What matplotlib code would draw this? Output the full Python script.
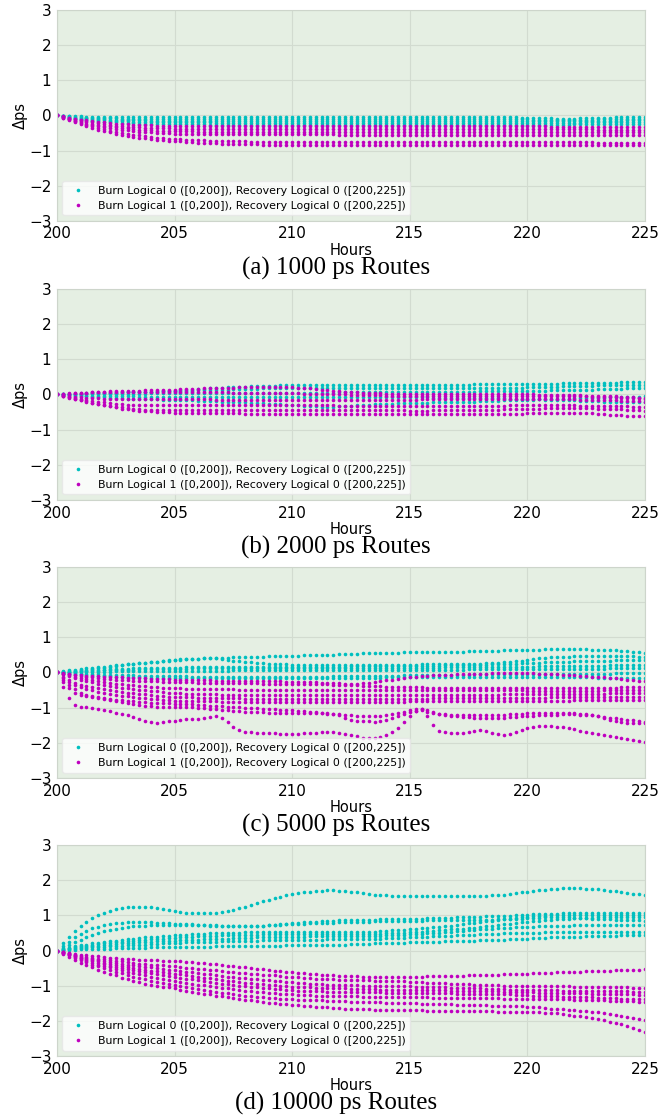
import numpy as np
import matplotlib.pyplot as plt

plt.rcParams['font.family'] = ['DejaVu Sans']

# one sample every 0.25 h from hour 200 to 225 (101 samples per route)
START = 200
STEP = 0.25

# ---- (a) 1000 ps routes
a_burn0 = [
    [0,-1,-2,-3, -3,-4,-4,-4, -4,-4,-4,-4, -4,-4,-4,-4, -4,-4,-4,-4,
     -4,-4,-4,-4, -4,-4,-4,-4, -4,-4,-4,-4, -4,-4,-4,-4, -4,-4,-4,-4,
     -4,-4,-4,-4, -4,-4,-4,-4, -4,-4,-4,-4, -4,-4,-4,-4, -4,-4,-4,-4,
     -4,-4,-4,-4, -4,-4,-4,-4, -4,-4,-4,-4, -4,-4,-4,-4, -4,-5,-5,-6,
     -6,-7,-7,-8, -8,-9,-9,-9, -9,-8,-8,-7, -7,-6,-6,-5, -5,-5,-4,-4, -4],
    [0,-2,-3,-4, -5,-6,-7,-7, -8,-8,-8,-9, -9,-9,-9,-9, -9,-9,-9,-9,
     -9,-9,-9,-9, -9,-9,-9,-9, -9,-9,-9,-9, -9,-9,-9,-9, -9,-9,-9,-9,
     -9,-9,-9,-9, -9,-9,-9,-9, -9,-9,-10,-10, -10,-10,-10,-10, -10,-10,-10,-10,
     -10,-10,-10,-10, -10,-10,-10,-10, -10,-10,-10,-10, -10,-10,-10,-10, -10,-11,-11,-11,
     -11,-12,-12,-12, -12,-13,-13,-13, -13,-12,-12,-12, -11,-11,-10,-10, -10,-9,-9,-9, -9],
    [0,-2,-4,-6, -7,-8,-9,-10, -11,-12,-12,-13, -13,-14,-14,-14, -15,-15,-15,-15,
     -15,-15,-15,-15, -15,-15,-15,-15, -15,-15,-15,-15, -15,-15,-15,-15, -15,-15,-15,-15,
     -15,-15,-15,-15, -15,-15,-15,-15, -16,-16,-16,-16, -16,-16,-16,-16, -16,-16,-16,-16,
     -16,-16,-16,-16, -16,-16,-16,-16, -16,-16,-16,-16, -16,-16,-16,-16, -16,-16,-16,-16,
     -16,-16,-16,-16, -16,-16,-16,-16, -16,-16,-16,-16, -15,-15,-15,-15, -15,-14,-14,-14, -14],
    [0,-3,-5,-7, -9,-11,-12,-13, -14,-15,-16,-17, -17,-18,-18,-19, -19,-19,-20,-20,
     -20,-20,-20,-20, -20,-20,-20,-21, -21,-21,-21,-21, -21,-21,-21,-21, -21,-21,-21,-21,
     -21,-21,-21,-21, -21,-21,-21,-21, -21,-21,-21,-21, -21,-21,-21,-21, -21,-21,-21,-21,
     -21,-21,-21,-21, -21,-21,-21,-21, -21,-21,-21,-21, -21,-21,-21,-21, -21,-21,-21,-21,
     -21,-21,-21,-21, -21,-21,-21,-21, -21,-21,-20,-20, -20,-20,-20,-20, -19,-19,-19,-19, -19],
    [0,-3,-6,-9, -11,-13,-15,-16, -18,-19,-20,-21, -22,-22,-23,-23, -24,-24,-24,-25,
     -25,-25,-25,-25, -25,-25,-26,-26, -26,-26,-26,-26, -26,-26,-26,-26, -26,-26,-26,-26,
     -26,-26,-26,-26, -26,-26,-26,-26, -26,-26,-26,-26, -26,-26,-26,-26, -26,-26,-26,-26,
     -26,-26,-26,-26, -26,-26,-26,-26, -26,-26,-26,-26, -26,-26,-26,-26, -26,-26,-26,-26,
     -26,-26,-26,-26, -26,-26,-26,-26, -25,-25,-25,-25, -25,-25,-25,-25, -24,-24,-24,-24, -24],
]
a_burn1 = [
    [0,-3,-6,-9, -12,-14,-16,-18, -20,-22,-23,-24, -25,-26,-27,-28, -28,-29,-29,-30,
     -30,-30,-30,-30, -30,-30,-30,-30, -31,-31,-31,-31, -31,-31,-31,-31, -31,-31,-31,-31,
     -31,-31,-31,-31, -31,-31,-31,-31, -31,-31,-31,-31, -31,-31,-31,-31, -31,-31,-31,-31,
     -31,-31,-31,-31, -31,-31,-31,-31, -31,-31,-31,-31, -31,-31,-31,-31, -31,-31,-31,-31,
     -31,-31,-31,-31, -32,-32,-32,-32, -32,-32,-32,-32, -32,-32,-33,-33, -33,-33,-33,-33, -33],
    [0,-4,-8,-11, -14,-17,-20,-22, -25,-27,-29,-30, -32,-33,-34,-35, -36,-36,-37,-37,
     -38,-38,-38,-38, -38,-38,-38,-38, -38,-38,-38,-38, -39,-39,-39,-39, -39,-39,-39,-39,
     -39,-39,-39,-39, -39,-39,-39,-39, -39,-39,-39,-39, -39,-39,-39,-39, -39,-39,-39,-39,
     -39,-39,-39,-39, -39,-39,-39,-39, -39,-39,-39,-39, -39,-39,-39,-39, -39,-39,-39,-39,
     -39,-39,-39,-39, -39,-39,-39,-39, -39,-39,-39,-39, -40,-40,-40,-40, -40,-40,-40,-40, -40],
    [0,-4,-9,-13, -17,-20,-23,-26, -29,-31,-33,-35, -37,-38,-40,-41, -42,-43,-43,-44,
     -44,-45,-45,-45, -46,-46,-46,-46, -46,-46,-46,-46, -46,-46,-46,-46, -46,-46,-46,-46,
     -46,-46,-46,-46, -46,-46,-46,-46, -46,-46,-46,-46, -46,-46,-46,-46, -46,-46,-46,-46,
     -47,-47,-47,-47, -47,-47,-47,-47, -47,-47,-47,-47, -47,-47,-47,-47, -47,-47,-47,-47,
     -47,-47,-47,-47, -47,-47,-47,-47, -47,-47,-47,-47, -46,-46,-46,-46, -46,-46,-46,-46, -46],
    [0,-5,-10,-15, -19,-23,-27,-30, -33,-36,-38,-40, -42,-44,-46,-47, -48,-49,-50,-51,
     -52,-52,-53,-53, -54,-54,-54,-54, -54,-54,-54,-54, -54,-54,-54,-54, -54,-54,-54,-54,
     -54,-54,-54,-54, -54,-54,-54,-54, -55,-55,-55,-55, -55,-55,-55,-55, -55,-55,-55,-55,
     -55,-55,-55,-55, -55,-55,-55,-55, -55,-55,-55,-55, -55,-55,-55,-55, -55,-55,-55,-55,
     -55,-55,-55,-55, -55,-55,-55,-55, -55,-55,-55,-55, -55,-55,-55,-55, -55,-55,-55,-55, -55],
    [0,-6,-11,-17, -22,-27,-31,-35, -39,-43,-46,-49, -52,-55,-57,-59, -61,-63,-64,-66,
     -67,-68,-69,-70, -71,-71,-72,-72, -73,-73,-74,-74, -74,-75,-75,-75, -75,-75,-75,-75,
     -75,-75,-75,-75, -75,-75,-75,-75, -75,-75,-75,-75, -75,-75,-75,-75, -75,-75,-75,-75,
     -76,-76,-76,-76, -76,-76,-76,-76, -76,-76,-76,-76, -76,-76,-76,-76, -76,-76,-76,-76,
     -76,-76,-76,-76, -76,-76,-76,-76, -76,-76,-76,-76, -77,-77,-77,-77, -77,-77,-77,-77, -77],
    [0,-6,-13,-19, -25,-30,-35,-40, -44,-48,-52,-55, -58,-61,-63,-65, -67,-69,-70,-72,
     -73,-74,-75,-76, -77,-78,-79,-79, -80,-80,-81,-81, -82,-82,-82,-83, -83,-83,-83,-83,
     -83,-83,-83,-83, -83,-83,-83,-83, -84,-84,-84,-84, -84,-84,-84,-84, -84,-84,-84,-84,
     -84,-84,-84,-84, -84,-84,-84,-84, -84,-84,-84,-84, -84,-84,-84,-84, -84,-84,-84,-84,
     -84,-84,-84,-84, -84,-84,-84,-84, -85,-85,-85,-85, -85,-85,-85,-85, -85,-85,-85,-85, -85],
]

# ---- (b) 2000 ps routes
b_burn0 = [
    [0,1,1,2, 2,3,3,4, 4,5,5,6, 6,7,7,8, 8,9,9,10,
     11,12,13,14, 15,16,17,18, 19,20,21,22, 22,23,24,24, 25,25,26,26,
     26,26,27,27, 27,27,27,27, 27,27,27,27, 27,27,27,27, 27,27,27,28,
     28,28,28,28, 28,28,28,28, 28,28,28,29, 29,29,29,29, 29,29,30,30,
     30,30,30,31, 31,31,32,32, 32,33,33,33, 34,34,34,34, 35,35,35,35, 35],
    [0,0,1,1, 2,2,3,3, 4,4,5,5, 6,6,7,7, 8,8,9,9,
     10,10,11,11, 12,12,13,13, 14,14,15,15, 16,16,16,17, 17,17,18,18,
     18,18,18,18, 18,18,18,18, 18,18,18,18, 18,18,18,18, 18,18,18,18,
     18,18,18,18, 18,18,18,18, 18,18,19,19, 19,19,19,19, 19,19,19,19,
     20,20,21,21, 22,22,23,23, 24,24,25,25, 26,26,26,27, 27,27,28,28, 28],
    [0,0,0,1, 1,1,1,1, 1,2,2,2, 2,2,2,2, 3,3,3,3,
     3,3,3,3, 3,4,4,4, 4,4,4,4, 4,4,4,5, 5,5,5,5,
     5,5,5,5, 5,5,5,5, 6,6,6,6, 6,6,6,6, 6,6,7,7,
     7,7,7,7, 7,7,8,8, 8,8,8,8, 9,9,9,9, 9,9,10,10,
     10,10,11,11, 12,12,12,13, 13,14,14,14, 15,15,15,16, 16,17,17,18, 18],
    [0,-1,-2,-3, -4,-5,-6,-7, -8,-9,-10,-11, -12,-12,-13,-13, -14,-14,-15,-15,
     -16,-16,-17,-17, -18,-18,-19,-19, -20,-20,-21,-21, -22,-23,-24,-25, -26,-27,-28,-29,
     -30,-31,-32,-33, -34,-35,-35,-35, -34,-33,-32,-31, -30,-29,-28,-27, -26,-26,-25,-25,
     -24,-24,-23,-23, -22,-22,-22,-21, -21,-21,-20,-20, -19,-19,-18,-18, -17,-17,-16,-16,
     -15,-15,-14,-14, -13,-13,-12,-12, -11,-11,-10,-10, -9,-9,-8,-8, -7,-7,-6,-6, -5],
    [0,-1,-1,-2, -2,-3,-3,-4, -4,-4,-5,-5, -5,-5,-6,-6, -6,-6,-6,-6,
     -6,-6,-6,-6, -6,-6,-6,-6, -6,-6,-6,-6, -6,-6,-6,-6, -6,-6,-6,-6,
     -6,-6,-6,-6, -7,-7,-7,-7, -7,-7,-7,-7, -8,-8,-8,-8, -8,-8,-8,-8,
     -8,-8,-8,-8, -9,-9,-9,-9, -9,-9,-10,-10, -10,-10,-11,-11, -11,-12,-12,-13,
     -13,-14,-14,-15, -15,-16,-16,-17, -17,-18,-18,-19, -19,-20,-20,-21, -21,-21,-22,-22, -22],
]
b_burn1 = [
    [0,1,2,3, 4,5,6,7, 8,9,9,10, 10,11,11,12, 12,13,13,14,
     14,15,15,16, 16,17,17,18, 18,19,19,20, 20,21,21,22, 22,22,21,21,
     20,19,18,17, 15,14,12,11, 9,8,7,6, 5,4,3,3, 2,2,1,1,
     1,1,1,1, 0,0,0,0, 0,0,0,0, 0,0,0,0, 0,0,0,0,
     0,0,-1,-1, -1,-1,-2,-2, -2,-2,-3,-3, -3,-4,-4,-5, -6,-7,-8,-9, -10],
    [0,2,3,4, 5,5,6,6, 6,6,6,6, 6,6,6,6, 6,6,6,6,
     6,6,6,6, 6,6,6,6, 6,6,5,5, 5,5,4,4, 4,4,3,3,
     3,3,2,2, 2,2,1,1, 0,0,-1,-1, -2,-2,-2,-2, -3,-3,-3,-3,
     -3,-3,-3,-3, -4,-4,-4,-4, -4,-4,-4,-4, -4,-4,-4,-4, -4,-4,-5,-5,
     -5,-5,-5,-5, -5,-5,-5,-5, -5,-5,-5,-6, -6,-7,-8,-8, -9,-10,-11,-11, -12],
    [0,-2,-4,-6, -8,-9,-10,-11, -12,-12,-13,-13, -14,-14,-14,-14, -14,-14,-14,-14,
     -14,-14,-14,-14, -14,-14,-14,-15, -15,-15,-15,-15, -15,-15,-15,-15, -15,-15,-15,-15,
     -15,-15,-15,-15, -15,-15,-15,-15, -15,-15,-15,-15, -15,-15,-15,-15, -15,-15,-15,-15,
     -15,-15,-14,-14, -14,-14,-14,-14, -13,-13,-13,-13, -13,-13,-13,-12, -12,-12,-12,-12,
     -12,-12,-12,-13, -13,-13,-14,-14, -14,-15,-15,-15, -16,-16,-17,-17, -18,-18,-19,-19, -20],
    [0,-3,-6,-9, -12,-15,-18,-20, -22,-24,-26,-28, -29,-30,-30,-30, -30,-30,-30,-30,
     -30,-30,-30,-30, -30,-30,-30,-30, -29,-29,-29,-29, -29,-29,-29,-29, -29,-29,-29,-30,
     -30,-30,-30,-30, -31,-31,-31,-31, -32,-32,-32,-32, -33,-33,-33,-33, -33,-33,-33,-33,
     -34,-34,-34,-34, -34,-34,-34,-34, -33,-33,-33,-33, -33,-33,-32,-32, -32,-31,-31,-31,
     -30,-30,-30,-30, -30,-30,-31,-31, -31,-32,-32,-32, -33,-33,-33,-34, -34,-34,-35,-35, -36],
    [0,-4,-8,-12, -15,-19,-23,-26, -29,-32,-35,-37, -39,-41,-42,-43, -44,-44,-45,-45,
     -45,-45,-45,-45, -45,-45,-45,-45, -44,-44,-44,-44, -44,-44,-44,-44, -43,-43,-43,-43,
     -43,-43,-43,-43, -44,-44,-44,-44, -44,-44,-44,-44, -45,-45,-45,-45, -45,-45,-45,-45,
     -46,-46,-46,-46, -45,-45,-45,-45, -44,-44,-44,-44, -43,-43,-43,-43, -42,-42,-41,-41,
     -40,-40,-40,-39, -39,-39,-39,-39, -39,-39,-39,-39, -40,-40,-41,-41, -42,-43,-44,-45, -46],
    [0,-4,-9,-13, -17,-21,-25,-28, -31,-34,-37,-40, -42,-44,-46,-47, -48,-49,-50,-51,
     -52,-52,-53,-53, -54,-54,-54,-54, -54,-54,-54,-54, -55,-55,-55,-55, -55,-55,-55,-55,
     -55,-55,-55,-55, -55,-55,-55,-55, -55,-55,-55,-55, -55,-55,-55,-55, -55,-55,-55,-55,
     -55,-55,-55,-55, -55,-55,-55,-55, -55,-55,-55,-55, -55,-55,-55,-55, -55,-55,-55,-55,
     -54,-54,-54,-54, -53,-53,-53,-53, -53,-53,-54,-54, -55,-56,-57,-58, -59,-60,-61,-62, -62],
]

# ---- (c) 5000 ps routes
c_burn0 = [
    [0,3,6,8, 10,12,14,15, 17,18,20,21, 23,25,26,28, 30,31,33,35,
     36,37,38,38, 39,40,41,41, 42,42,43,43, 44,44,45,45, 46,46,47,47,
     48,48,49,49, 50,50,51,51, 52,52,53,53, 54,54,55,55, 56,56,56,57,
     57,57,57,58, 58,58,58,59, 59,59,60,60, 61,61,62,62, 63,63,64,64,
     65,65,65,66, 66,66,66,66, 66,66,66,65, 65,64,64,63, 62,61,59,58, 56],
    [0,1,3,4, 6,8,10,12, 14,16,19,21, 23,25,27,28, 30,31,33,34,
     35,36,37,38, 39,40,41,40, 38,36,34,32, 30,29,27,26, 25,24,23,23,
     22,22,22,22, 22,22,22,22, 22,22,22,22, 22,22,22,22, 22,22,22,22,
     22,22,23,23, 23,23,23,23, 23,23,24,24, 25,26,27,28, 29,31,32,34,
     36,38,40,41, 43,44,45,45, 46,46,46,47, 47,47,47,46, 46,46,46,45, 45],
    [0,1,2,3, 4,5,6,7, 8,9,10,10, 11,12,12,13, 13,13,14,14,
     14,14,15,15, 15,15,16,16, 16,16,16,16, 16,16,16,16, 16,16,17,17,
     17,17,17,17, 17,17,17,17, 17,17,18,18, 18,18,18,18, 18,18,18,18,
     18,18,19,19, 19,19,20,20, 20,21,21,22, 22,22,23,23, 24,25,25,26,
     27,28,28,29, 30,30,31,31, 32,32,33,33, 34,34,34,35, 35,35,35,35, 35],
    [0,1,2,2, 3,4,5,5, 6,6,7,7, 8,8,9,9, 10,10,10,11,
     11,11,11,12, 12,12,12,12, 12,12,12,12, 12,12,13,13, 13,13,13,13,
     13,13,13,13, 13,13,13,13, 13,13,13,13, 13,13,14,14, 14,14,14,14,
     14,14,14,14, 14,14,15,15, 15,15,15,15, 16,16,16,16, 16,16,17,17,
     17,17,18,18, 18,18,19,19, 19,19,19,19, 19,19,20,20, 20,20,21,21, 21],
    [0,0,1,1, 1,1,2,2, 2,2,3,3, 3,3,4,4, 4,4,5,5,
     5,5,5,5, 5,5,5,5, 5,5,6,6, 6,6,6,6, 6,6,6,6,
     6,6,6,7, 7,7,7,7, 7,7,7,7, 7,7,7,7, 7,7,8,8,
     8,8,8,8, 8,8,8,8, 8,8,9,9, 9,9,9,9, 9,9,10,10,
     10,10,10,10, 10,10,11,11, 11,11,11,11, 11,11,12,12, 12,12,12,12, 12],
    [0,-1,-2,-2, -3,-4,-5,-5, -6,-6,-7,-7, -8,-8,-9,-9, -10,-10,-10,-11,
     -11,-11,-11,-12, -12,-12,-12,-13, -13,-13,-13,-13, -13,-13,-13,-13, -13,-13,-13,-13,
     -13,-13,-13,-12, -12,-12,-12,-11, -11,-11,-11,-10, -10,-10,-10,-9, -9,-9,-9,-8,
     -8,-8,-8,-7, -7,-7,-7,-6, -6,-6,-6,-5, -5,-5,-5,-5, -5,-5,-5,-4,
     -4,-4,-4,-4, -4,-4,-4,-3, -3,-3,-3,-3, -3,-3,-3,-2, -2,-2,-2,-2, -2],
    [0,-1,-3,-4, -5,-6,-8,-9, -10,-11,-12,-12, -13,-14,-14,-15, -15,-15,-16,-16,
     -16,-16,-17,-17, -17,-17,-17,-17, -17,-17,-17,-17, -17,-17,-17,-17, -17,-17,-17,-17,
     -17,-17,-17,-17, -17,-17,-17,-17, -16,-16,-16,-16, -15,-15,-15,-15, -14,-14,-14,-14,
     -13,-13,-13,-13, -12,-12,-12,-12, -12,-12,-12,-12, -12,-12,-12,-12, -12,-12,-12,-12,
     -12,-12,-12,-12, -13,-13,-13,-13, -14,-14,-14,-14, -15,-15,-15,-15, -16,-16,-16,-16, -17],
]
c_burn1 = [
    [0,-2,-4,-6, -8,-9,-10,-11, -12,-13,-14,-14, -15,-16,-17,-17, -18,-18,-19,-19,
     -20,-20,-21,-21, -22,-22,-22,-23, -23,-23,-23,-24, -24,-24,-24,-25, -25,-25,-25,-26,
     -26,-26,-27,-27, -28,-29,-30,-30, -31,-32,-34,-33, -31,-29,-27,-24, -22,-20,-18,-16,
     -14,-12,-11,-9, -8,-7,-6,-6, -5,-4,-4,-3, -3,-3,-2,-2, -2,-2,-2,-2,
     -2,-2,-3,-3, -4,-5,-6,-7, -8,-9,-10,-12, -13,-14,-15,-17, -18,-20,-21,-23, -24],
    [0,-3,-5,-8, -10,-12,-14,-16, -18,-19,-20,-21, -22,-23,-23,-24, -25,-25,-26,-26,
     -27,-27,-28,-28, -29,-29,-29,-30, -30,-30,-30,-31, -31,-31,-31,-32, -32,-32,-32,-33,
     -33,-33,-33,-34, -34,-34,-34,-35, -35,-35,-36,-36, -37,-38,-38,-39, -40,-40,-41,-41,
     -42,-42,-42,-43, -43,-43,-43,-44, -44,-44,-44,-45, -45,-45,-45,-45, -45,-45,-45,-45,
     -45,-45,-45,-45, -45,-45,-45,-45, -44,-44,-44,-44, -43,-43,-43,-43, -42,-42,-41,-41, -40],
    [0,-4,-8,-12, -15,-19,-22,-25, -28,-30,-32,-34, -35,-36,-38,-39, -40,-41,-43,-44,
     -45,-45,-46,-46, -47,-47,-47,-48, -48,-48,-48,-49, -49,-49,-49,-50, -50,-50,-50,-50,
     -50,-50,-50,-50, -50,-50,-50,-50, -50,-50,-50,-50, -50,-50,-50,-50, -50,-50,-50,-50,
     -50,-50,-50,-50, -50,-50,-50,-50, -51,-51,-51,-51, -51,-51,-51,-51, -51,-51,-51,-51,
     -52,-52,-52,-52, -52,-52,-52,-52, -52,-52,-52,-52, -52,-51,-51,-51, -51,-51,-50,-50, -50],
    [0,-5,-10,-15, -20,-24,-28,-32, -35,-38,-40,-43, -45,-47,-49,-50, -52,-54,-55,-57,
     -58,-59,-60,-60, -61,-61,-62,-62, -63,-63,-63,-64, -64,-64,-64,-64, -64,-64,-64,-64,
     -64,-64,-64,-64, -64,-64,-64,-64, -64,-64,-64,-64, -64,-64,-64,-64, -64,-64,-64,-64,
     -63,-63,-63,-63, -63,-63,-63,-63, -63,-63,-63,-63, -63,-63,-63,-63, -62,-62,-62,-62,
     -62,-62,-62,-61, -61,-61,-61,-60, -60,-60,-60,-60, -60,-60,-59,-59, -59,-59,-59,-59, -59],
    [0,-12,-22,-29, -35,-39,-42,-45, -48,-50,-53,-55, -57,-59,-61,-62, -64,-66,-67,-69,
     -70,-70,-71,-71, -72,-72,-72,-72, -73,-73,-73,-73, -74,-74,-74,-74, -74,-74,-74,-74,
     -75,-75,-75,-75, -76,-76,-76,-76, -76,-76,-76,-76, -76,-76,-76,-76, -76,-75,-75,-75,
     -74,-74,-74,-74, -73,-73,-73,-73, -72,-72,-72,-72, -72,-72,-72,-72, -72,-72,-72,-72,
     -72,-72,-72,-72, -71,-71,-71,-71, -70,-70,-70,-70, -70,-70,-70,-70, -69,-69,-69,-69, -69],
    [0,-15,-27,-36, -42,-47,-51,-55, -58,-61,-63,-66, -68,-70,-72,-73, -75,-76,-78,-79,
     -80,-80,-81,-81, -82,-82,-82,-82, -83,-83,-83,-83, -84,-84,-84,-84, -84,-84,-84,-84,
     -84,-84,-84,-84, -84,-84,-84,-84, -84,-84,-84,-84, -84,-84,-84,-84, -83,-83,-83,-83,
     -82,-82,-82,-82, -82,-82,-82,-82, -81,-81,-81,-81, -81,-81,-81,-81, -80,-80,-80,-80,
     -80,-80,-80,-80, -80,-80,-80,-80, -79,-79,-79,-79, -79,-79,-79,-79, -78,-78,-78,-78, -78],
    [0,-20,-35,-48, -57,-63,-67,-70, -73,-75,-77,-78, -80,-82,-83,-85, -86,-87,-88,-88,
     -89,-90,-90,-91, -92,-93,-94,-95, -96,-97,-98,-99, -100,-101,-102,-103, -104,-105,-106,-107,
     -108,-109,-110,-112, -113,-115,-117,-118, -120,-128,-135,-137, -138,-139,-140,-138, -135,-130,-125,-119,
     -112,-109,-108,-111, -115,-118,-120,-123, -125,-126,-127,-128, -128,-128,-128,-128, -128,-127,-126,-125,
     -124,-123,-122,-121, -120,-120,-119,-119, -119,-120,-121,-122, -124,-126,-128,-130, -132,-134,-136,-138, -140],
    [0,-26,-45,-58, -64,-68,-71,-73, -76,-79,-81,-83, -86,-89,-92,-94, -96,-97,-98,-99,
     -99,-99,-99,-99, -100,-101,-103,-105, -106,-108,-109,-110, -111,-112,-112,-113, -114,-114,-114,-114,
     -114,-114,-115,-115, -115,-115,-116,-117, -118,-120,-122,-124, -125,-125,-125,-123, -121,-118,-115,-111,
     -107,-105,-105,-108, -113,-117,-119,-120, -121,-121,-121,-121, -121,-121,-121,-121, -120,-119,-118,-117,
     -116,-116,-115,-115, -114,-114,-114,-115, -116,-117,-118,-120, -125,-130,-135,-139, -142,-144,-145,-145, -145],
    [0,-40,-73,-92, -97,-99,-101,-104, -107,-110,-114,-118, -122,-127,-133,-139, -142,-143,-141,-139,
     -137,-135,-133,-132, -131,-130,-127,-124, -128,-140,-155,-164, -168,-170,-171,-172, -173,-173,-174,-174,
     -174,-174,-173,-172, -171,-170,-169,-170, -173,-176,-179,-182, -185,-187,-186,-183, -178,-170,-157,-140,
     -125,-110,-105,-125, -150,-165,-170,-173, -173,-172,-170,-167, -164,-167,-172,-176, -178,-175,-169,-163,
     -159,-156,-153,-152, -153,-154,-156,-159, -162,-165,-168,-171, -174,-177,-180,-183, -186,-189,-192,-195, -197],
]

# ---- (d) 10000 ps routes
d_burn0 = [
    [0,20,37,55, 70,82,92,101, 108,113,118,121, 123,124,124,124, 123,121,118,115,
     112,110,108,107, 106,106,106,107, 109,112,116,120, 125,130,135,140, 145,149,153,157,
     160,163,165,167, 169,170,171,171, 170,169,167,165, 163,161,159,158, 157,156,155,155,
     155,155,155,155, 155,155,155,155, 155,155,155,155, 155,156,157,158, 159,161,163,165,
     167,169,171,173, 175,176,177,177, 177,177,176,175, 174,172,170,168, 166,164,162,160, 158],
    [0,12,25,38, 48,56,63,68, 72,75,77,79, 80,81,81,81, 80,79,78,77,
     76,75,75,74, 73,73,72,72, 71,71,70,70, 70,70,71,71, 72,73,74,76,
     77,78,80,81, 82,83,84,85, 86,86,87,87, 88,88,88,89, 89,89,90,90,
     91,91,91,92, 92,92,93,93, 94,94,95,95, 96,97,97,98, 99,99,100,101,
     102,103,103,104, 105,105,106,106, 107,107,107,108, 108,108,108,108, 108,108,108,108, 108],
    [0,8,16,23, 30,37,43,49, 55,59,62,65, 68,69,70,71, 72,72,72,73,
     73,73,73,72, 72,72,71,71, 70,70,70,70, 70,70,71,71, 72,73,73,74,
     75,76,76,77, 78,78,79,79, 80,80,81,81, 82,82,83,83, 84,84,84,85,
     85,85,85,86, 86,86,86,87, 87,87,87,88, 88,88,88,89, 89,90,90,91,
     92,93,93,94, 95,95,94,94, 93,92,92,91, 90,89,89,88, 88,87,87,86, 85],
    [0,4,8,12, 15,17,20,22, 24,26,28,30, 32,34,35,37, 38,39,41,42,
     43,44,45,46, 47,48,49,49, 50,50,51,51, 52,52,52,53, 53,53,53,53,
     53,53,53,53, 52,52,52,52, 52,52,52,52, 53,54,54,55, 56,57,58,59,
     60,61,63,64, 66,68,70,71, 73,75,77,79, 81,83,85,87, 89,91,93,94,
     96,97,98,99, 100,100,101,101, 102,102,102,102, 102,102,101,101, 101,101,100,100, 100],
    [0,3,6,9, 12,14,16,18, 20,22,24,25, 27,28,30,31, 32,33,34,35,
     36,37,38,39, 40,41,41,42, 43,43,44,44, 45,45,45,46, 46,46,46,46,
     46,46,46,46, 46,46,46,46, 46,46,46,46, 47,47,48,48, 49,50,50,51,
     52,53,54,55, 56,57,58,60, 61,62,64,65, 67,69,70,72, 74,76,78,80,
     82,84,85,87, 88,89,90,91, 92,92,93,93, 94,94,94,94, 94,94,94,94, 94],
    [0,2,5,7, 9,11,13,14, 16,17,19,20, 21,22,23,24, 25,26,27,27,
     28,29,30,30, 31,32,33,33, 34,34,35,35, 36,36,37,37, 38,38,38,39,
     39,39,39,40, 40,40,40,40, 40,40,40,41, 41,41,41,42, 43,43,44,45,
     46,47,48,49, 50,51,52,54, 55,56,57,59, 60,61,62,63, 64,65,66,67,
     68,68,69,69, 70,70,71,71, 72,72,72,72, 72,72,72,72, 72,72,72,72, 72],
    [0,2,3,5, 6,7,9,10, 11,12,13,14, 15,16,17,17, 18,19,20,20,
     21,22,23,23, 24,24,25,25, 26,26,27,27, 28,28,28,29, 29,29,30,30,
     30,30,31,31, 31,31,32,32, 32,32,33,33, 33,33,34,34, 35,35,36,36,
     37,38,38,39, 40,41,41,42, 43,44,44,45, 46,47,47,48, 49,49,50,50,
     51,51,51,52, 52,52,52,53, 53,53,53,53, 53,53,53,53, 53,53,53,53, 53],
    [0,1,2,2, 3,3,4,4, 5,5,6,6, 7,7,8,8, 9,9,9,10,
     10,10,10,11, 11,11,11,12, 12,12,12,13, 13,13,13,14, 14,14,14,15,
     15,15,15,16, 16,16,16,17, 17,17,18,18, 19,19,20,20, 21,21,22,22,
     23,23,24,24, 25,25,26,26, 27,27,28,28, 29,29,30,30, 31,32,32,33,
     34,35,35,36, 37,37,38,38, 39,39,40,40, 41,41,42,42, 43,43,43,44, 44],
]
d_burn1 = [
    [0,-3,-6,-9, -12,-14,-16,-17, -19,-20,-22,-23, -24,-25,-26,-26, -27,-28,-29,-29,
     -30,-31,-32,-34, -35,-36,-38,-39, -41,-43,-45,-46, -48,-50,-52,-53, -55,-57,-59,-60,
     -62,-64,-65,-67, -68,-69,-70,-71, -72,-72,-73,-73, -74,-74,-74,-74, -74,-74,-74,-74,
     -74,-74,-74,-73, -73,-73,-73,-72, -72,-72,-71,-71, -70,-70,-69,-69, -68,-68,-67,-67,
     -66,-65,-65,-64, -63,-62,-62,-61, -60,-60,-59,-59, -58,-57,-57,-56, -55,-55,-54,-54, -53],
    [0,-4,-8,-12, -15,-18,-20,-23, -25,-27,-29,-31, -33,-35,-37,-38, -40,-41,-42,-44,
     -45,-47,-49,-50, -52,-53,-55,-56, -58,-60,-61,-63, -64,-66,-67,-69, -70,-71,-73,-74,
     -75,-76,-78,-79, -80,-81,-82,-82, -83,-83,-84,-84, -85,-85,-86,-86, -87,-87,-88,-88,
     -89,-90,-90,-91, -92,-93,-93,-94, -95,-96,-96,-97, -98,-98,-99,-99, -100,-100,-100,-100,
     -101,-101,-101,-101, -102,-102,-102,-102, -103,-103,-103,-103, -104,-104,-104,-104, -105,-105,-106,-106, -107],
    [0,-5,-9,-14, -18,-21,-24,-27, -30,-33,-35,-38, -40,-42,-44,-46, -48,-50,-52,-54,
     -56,-58,-60,-62, -64,-66,-68,-70, -72,-74,-76,-77, -79,-81,-82,-84, -85,-86,-88,-89,
     -90,-91,-93,-94, -95,-96,-97,-97, -98,-98,-99,-99, -100,-100,-100,-101, -101,-101,-102,-102,
     -102,-103,-103,-104, -104,-105,-105,-106, -106,-107,-107,-108, -108,-109,-109,-110, -110,-111,-111,-112,
     -112,-112,-113,-113, -113,-113,-114,-114, -114,-114,-115,-115, -115,-115,-116,-116, -116,-116,-117,-117, -117],
    [0,-5,-10,-15, -20,-24,-28,-31, -35,-38,-41,-44, -47,-50,-52,-55, -57,-59,-61,-64,
     -66,-68,-70,-73, -75,-77,-79,-82, -84,-86,-88,-90, -92,-93,-95,-96, -98,-99,-100,-102,
     -103,-104,-104,-105, -106,-106,-107,-107, -108,-108,-109,-109, -110,-110,-110,-111, -111,-111,-111,-112,
     -112,-112,-112,-113, -113,-113,-113,-114, -114,-114,-114,-115, -115,-115,-116,-116, -117,-117,-118,-118,
     -119,-119,-120,-120, -121,-121,-121,-122, -122,-122,-122,-123, -123,-123,-124,-124, -125,-125,-125,-126, -126],
    [0,-6,-11,-17, -22,-26,-31,-35, -39,-43,-46,-50, -53,-56,-59,-62, -65,-67,-70,-72,
     -75,-77,-80,-82, -85,-87,-90,-92, -94,-96,-98,-100, -102,-103,-105,-106, -108,-109,-110,-112,
     -113,-114,-114,-115, -116,-116,-117,-117, -118,-118,-118,-118, -119,-119,-119,-119, -120,-120,-120,-120,
     -121,-121,-121,-121, -122,-122,-122,-122, -123,-123,-123,-123, -124,-124,-124,-124, -125,-125,-126,-126,
     -127,-128,-128,-129, -130,-130,-131,-131, -132,-132,-133,-133, -134,-135,-135,-136, -137,-137,-138,-138, -139],
    [0,-7,-13,-19, -25,-30,-35,-40, -44,-48,-52,-56, -60,-64,-67,-71, -74,-77,-80,-83,
     -86,-89,-92,-94, -97,-99,-101,-104, -106,-108,-110,-112, -114,-116,-117,-119, -120,-121,-123,-124,
     -125,-126,-127,-127, -128,-128,-129,-129, -130,-130,-130,-130, -131,-131,-131,-131, -132,-132,-132,-132,
     -133,-133,-133,-133, -134,-134,-134,-134, -135,-135,-135,-135, -136,-136,-136,-136, -137,-137,-137,-137,
     -138,-138,-138,-138, -139,-139,-139,-139, -140,-140,-140,-141, -142,-142,-143,-143, -144,-144,-144,-145, -145],
    [0,-7,-14,-21, -28,-34,-40,-45, -50,-55,-60,-65, -70,-74,-78,-82, -86,-89,-93,-96,
     -99,-102,-105,-107, -110,-113,-115,-118, -120,-122,-124,-126, -128,-130,-131,-133, -134,-135,-137,-138,
     -139,-140,-140,-141, -142,-142,-143,-143, -144,-144,-145,-145, -146,-146,-147,-147, -148,-148,-149,-149,
     -150,-150,-151,-151, -152,-152,-153,-153, -154,-154,-155,-155, -156,-156,-157,-157, -158,-158,-159,-159,
     -160,-161,-162,-164, -165,-166,-167,-169, -170,-171,-173,-174, -176,-178,-180,-183, -185,-188,-191,-194, -197],
    [0,-9,-18,-27, -35,-42,-48,-54, -60,-66,-71,-77, -82,-86,-90,-94, -97,-100,-103,-105,
     -108,-111,-114,-117, -120,-123,-125,-128, -130,-133,-135,-138, -140,-142,-144,-146, -148,-150,-152,-153,
     -155,-156,-158,-159, -160,-161,-162,-163, -164,-165,-165,-166, -167,-167,-168,-168, -169,-169,-169,-170,
     -170,-170,-170,-171, -171,-171,-171,-172, -172,-172,-172,-173, -173,-173,-173,-174, -174,-174,-174,-175,
     -175,-176,-176,-177, -178,-179,-181,-183, -185,-187,-190,-192, -195,-198,-202,-206, -210,-215,-220,-226, -231],
]

panels = [
    (a_burn0, a_burn1, '(a) 1000 ps Routes'),
    (b_burn0, b_burn1, '(b) 2000 ps Routes'),
    (c_burn0, c_burn1, '(c) 5000 ps Routes'),
    (d_burn0, d_burn1, '(d) 10000 ps Routes'),
]
legend_labels = ['Burn Logical 0 ([0,200]), Recovery Logical 0 ([200,225])',
                 'Burn Logical 1 ([0,200]), Recovery Logical 0 ([200,225])']
x_ticks = [200, 205, 210, 215, 220, 225]
y_ticks = [-3, -2, -1, 0, 1, 2, 3]

bad = [(p[2], k, i, len(r)) for p in panels for k in (0, 1)
       for i, r in enumerate(p[k]) if len(r) != 101]
if bad:
    raise ValueError('wrong route length: %s' % bad)

fig = plt.figure(figsize=(6.72, 11.17), dpi=100)
bottoms = [0.8022, 0.5524, 0.3035, 0.0546]
cap_y = [0.7601, 0.5103, 0.2614, 0.0125]

for (burn0, burn1, caption), bot, cy in zip(panels, bottoms, cap_y):
    ax = fig.add_axes([0.0848, bot, 0.875, 0.1889])
    ax.set_facecolor('#e5efe3')
    for routes, col, lab in ((burn0, 'c', legend_labels[0]),
                             (burn1, 'm', legend_labels[1])):
        for i, r in enumerate(routes):
            hrs = START + STEP * np.arange(len(r))
            ax.plot(hrs, np.array(r) / 100.0, ls='none', marker='o', ms=2.6,
                    mew=0, color=col, label=lab if i == 0 else None)
    ax.set_xlim(200, 225)
    ax.set_ylim(-3, 3)
    ax.set_xticks(x_ticks)
    ax.set_yticks(y_ticks)
    ax.grid(True, color='#d2dbd0', lw=0.8)
    ax.set_axisbelow(True)
    ax.tick_params(length=0, labelsize=11, pad=4)
    for s in ax.spines.values():
        s.set_color('#cdd5cb')
        s.set_linewidth(0.8)
    ax.set_xlabel('Hours', fontsize=10.5, labelpad=1)
    ax.set_ylabel('\u0394ps', fontsize=10.5, labelpad=1)
    ax.legend(loc='lower left', fontsize=7.9, framealpha=0.8,
              edgecolor='#e6e6e6', fancybox=True)
    fig.text(0.5, cy, caption, ha='center', va='center',
             family='Liberation Serif', fontsize=18)

fig.savefig('out.png', dpi=100)
